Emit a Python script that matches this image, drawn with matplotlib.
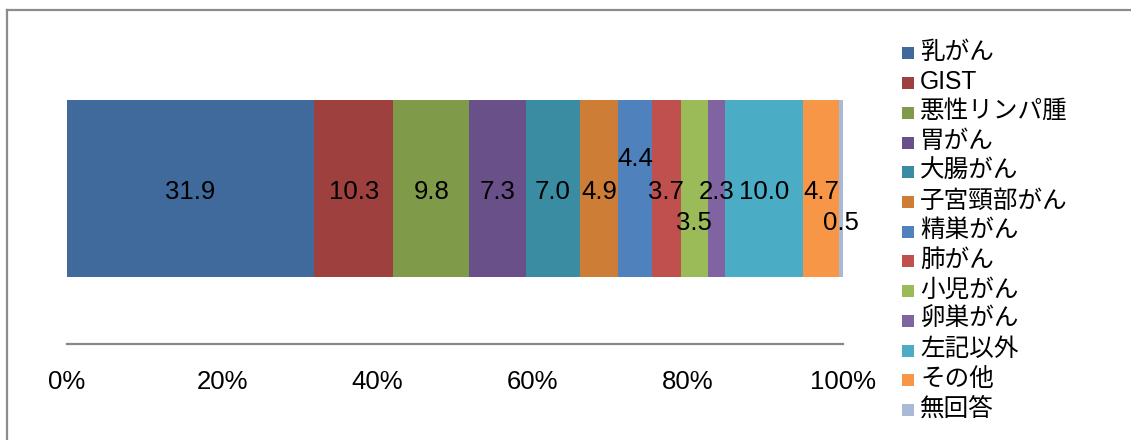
import matplotlib
matplotlib.use("Agg")
import matplotlib.pyplot as plt
from matplotlib.patches import Rectangle
from matplotlib.lines import Line2D
import numpy as np

categories = ["乳がん", "GIST", "悪性リンパ腫", "胃がん", "大腸がん", "子宮頸部がん",
              "精巣がん", "肺がん", "小児がん", "卵巣がん", "左記以外", "その他", "無回答"]
values = [31.9, 10.3, 9.8, 7.3, 7.0, 4.9, 4.4, 3.7, 3.5, 2.3, 10.0, 4.7, 0.5]
colors = ["#416A9C", "#9E413E", "#7F9A48", "#695089", "#3A8CA3", "#CE7D37",
          "#4F81BD", "#C0504D", "#9BBB59", "#8064A2", "#4BACC6", "#F79646", "#A9B9D8"]
xticks = [0, 20, 40, 60, 80, 100]
xticklabels = ["0%", "20%", "40%", "60%", "80%", "100%"]

W, H = 1131, 440
fig = plt.figure(figsize=(W / 100, H / 100), dpi=100)
fig.patch.set_facecolor("white")

# axes: x 67..843 px, y (from top) 33..344 px
ax = fig.add_axes([67 / W, 1 - 344 / H, (843 - 67) / W, (344 - 33) / H])
ax.set_xlim(0, 100)
ax.set_ylim(0, 1)

num_font = ["Liberation Sans", "Noto Sans CJK JP"]
total = sum(values)
left = 0.0
label_dy = {6: 0.105, 8: -0.1, 12: -0.1}
for i, (v, c) in enumerate(zip(values, colors)):
    w = v / total * 100
    ax.barh(0.5, w, left=left, height=0.569, color=c, edgecolor="none", clip_on=False)
    ax.text(left + w / 2, 0.49 + label_dy.get(i, 0.0), f"{v:.1f}", ha="center", va="center",
            fontsize=18.5, family=num_font, color="black", clip_on=False)
    left += w

for s in ["top", "right", "left"]:
    ax.spines[s].set_visible(False)
ax.spines["bottom"].set_color("#878787")
ax.spines["bottom"].set_linewidth(1.6)
ax.set_yticks([])
ax.set_xticks(xticks)
ax.set_xticklabels(xticklabels, fontsize=18.5, family=num_font)
ax.tick_params(axis="x", length=0, pad=19)

# chart-area border (cropped Excel frame)
fig.add_artist(Line2D([7 / W, 1.0], [1 - 10 / H, 1 - 10 / H], color="#8C8C8C", lw=1.6,
                      transform=fig.transFigure))
fig.add_artist(Line2D([7 / W, 7 / W], [1 - 10 / H, 0.0], color="#8C8C8C", lw=1.6,
                      transform=fig.transFigure))

# legend
y0, dy = 53.0, 29.7
for i, (cat, c) in enumerate(zip(categories, colors)):
    yc = y0 + i * dy
    fig.add_artist(Rectangle((902 / W, 1 - (yc + 6.5) / H), 12 / W, 12 / H,
                             transform=fig.transFigure, facecolor=c, edgecolor="none"))
    fig.text(920 / W, 1 - (yc - 1) / H, cat, ha="left", va="center", fontsize=17.7,
             family=num_font, color="black")

fig.savefig("out.png", dpi=100, facecolor="white")
